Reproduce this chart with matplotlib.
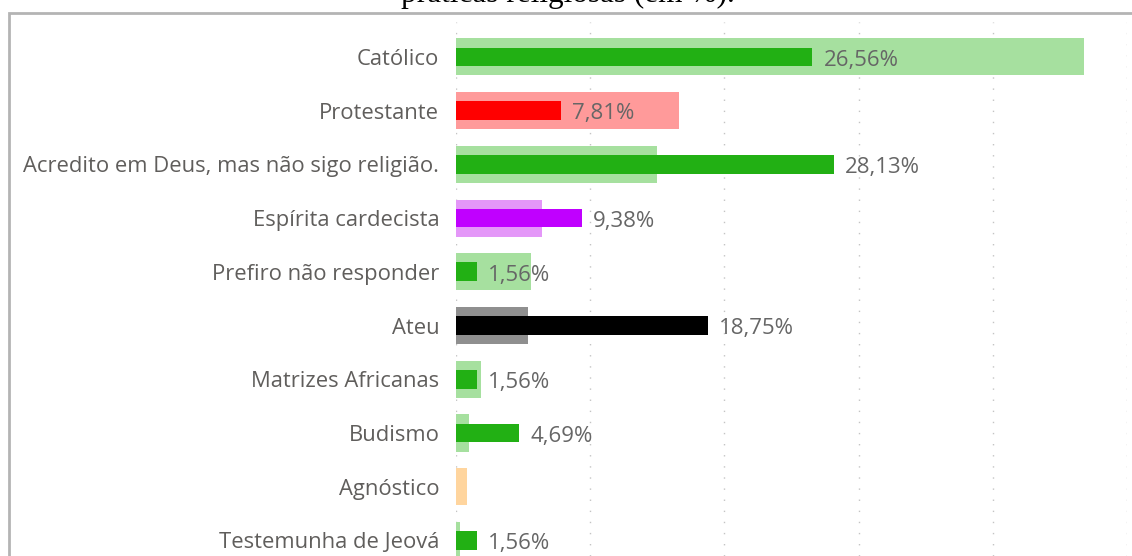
import matplotlib
matplotlib.use('Agg')
import matplotlib.pyplot as plt
from matplotlib.patches import Rectangle

categorias = ['Católico', 'Protestante', 'Acredito em Deus, mas não sigo religião.',
              'Espírita cardecista', 'Prefiro não responder', 'Ateu',
              'Matrizes Africanas', 'Budismo', 'Agnóstico', 'Testemunha de Jeová']
# serie destacada (barra fina, com rotulo)
valores = [26.56, 7.81, 28.13, 9.38, 1.56, 18.75, 1.56, 4.69, 0.0, 1.56]
# serie de fundo (barra larga, clara)
fundo = [46.8, 16.6, 15.0, 6.4, 5.6, 5.4, 1.9, 1.0, 0.8, 0.3]
rotulos = ['26,56%', '7,81%', '28,13%', '9,38%', '1,56%', '18,75%', '1,56%', '4,69%', '', '1,56%']

cor_escura = ['#22b014', '#ff0000', '#22b014', '#c000ff', '#22b014', '#000000',
              '#22b014', '#22b014', '#22b014', '#22b014']
cor_clara = ['#a6e09f', '#ff9a9a', '#a6e09f', '#e497f8', '#a6e09f', '#8f8f8f',
             '#a6e09f', '#a6e09f', '#ffd59e', '#a6e09f']

W, H = 1132, 556
fig = plt.figure(figsize=(W / 100, H / 100), dpi=100)
ax = fig.add_axes([456 / W, 0, (1127 - 456) / W, 1 - 22 / H])

y = list(range(len(categorias)))
ax.barh(y, fundo, height=0.69, color=cor_clara, zorder=2)
ax.barh(y, valores, height=0.35, color=cor_escura, zorder=3)

for i, (v, r) in enumerate(zip(valores, rotulos)):
    if r:
        ax.text(v + 0.85, i + 0.06, r, va='center', ha='left', fontsize=16,
                family='Open Sans', color='#666666', zorder=4)

ax.set_xlim(0, 50)
ax.set_ylim(9.29, -0.65)
ax.set_xticks([0, 10, 20, 30, 40, 50])
ax.xaxis.grid(True, linestyle=(0, (1, 7)), color='#c4c4c4', linewidth=1, zorder=0)
ax.tick_params(axis='x', length=0, labelbottom=False)
ax.set_yticks(y)
ax.set_yticklabels(categorias, fontsize=15.8, family='Open Sans', color='#605e5c')
ax.tick_params(axis='y', length=0, pad=12)
for s in ax.spines.values():
    s.set_visible(False)
ax.set_facecolor('none')

# moldura cinza da visualizacao
fig.add_artist(Rectangle((9 / W, -0.1), 2, 1 - 13 / H + 0.1, transform=fig.transFigure,
                         fill=False, edgecolor='#b4b4b4', linewidth=2))
fig.text(568 / W, 1 - 2 / H, 'práticas religiosas (em %).', ha='center', va='baseline',
         fontsize=22.5, family='Liberation Serif', color='black')

fig.savefig('out.png', dpi=100)
